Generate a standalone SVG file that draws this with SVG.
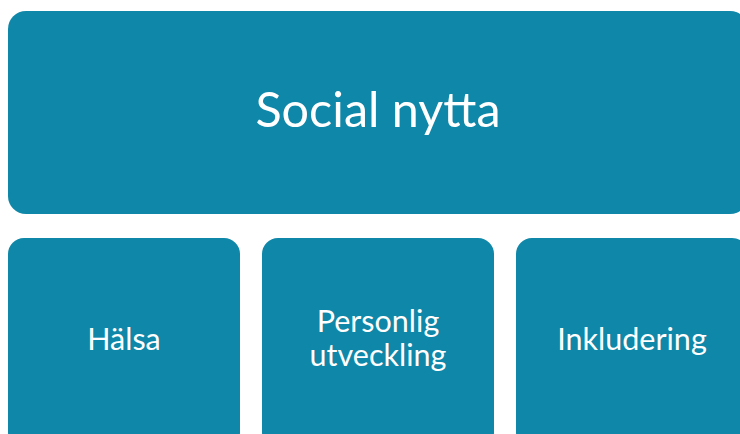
<svg xmlns="http://www.w3.org/2000/svg" width="740" height="434" viewBox="0 0 740 434">
  <style>
    .box { fill: #0E87A8; }
    .lbl { fill: #FFFFFF; font-family: Lato, "Open Sans", "Liberation Sans", sans-serif; text-anchor: middle; }
    .big { font-size: 48.5px; }
    .small { font-size: 30.5px; }
  </style>
  <rect width="740" height="434" fill="#FFFFFF"/>
  <g id="social-nytta">
    <rect class="box" x="8" y="11" width="740" height="203" rx="18" ry="18"/>
    <text class="lbl big" x="378" y="127">Social nytta</text>
  </g>
  <g id="halsa">
    <rect class="box" x="8" y="238" width="232" height="210" rx="16" ry="16"/>
    <text class="lbl small" x="124" y="350">Hälsa</text>
  </g>
  <g id="personlig-utveckling">
    <rect class="box" x="262" y="238" width="232" height="210" rx="16" ry="16"/>
    <text class="lbl small" x="378" y="332">Personlig</text>
    <text class="lbl small" x="378" y="366">utveckling</text>
  </g>
  <g id="inkludering">
    <rect class="box" x="516" y="238" width="232" height="210" rx="16" ry="16"/>
    <text class="lbl small" x="632" y="350">Inkludering</text>
  </g>
</svg>
